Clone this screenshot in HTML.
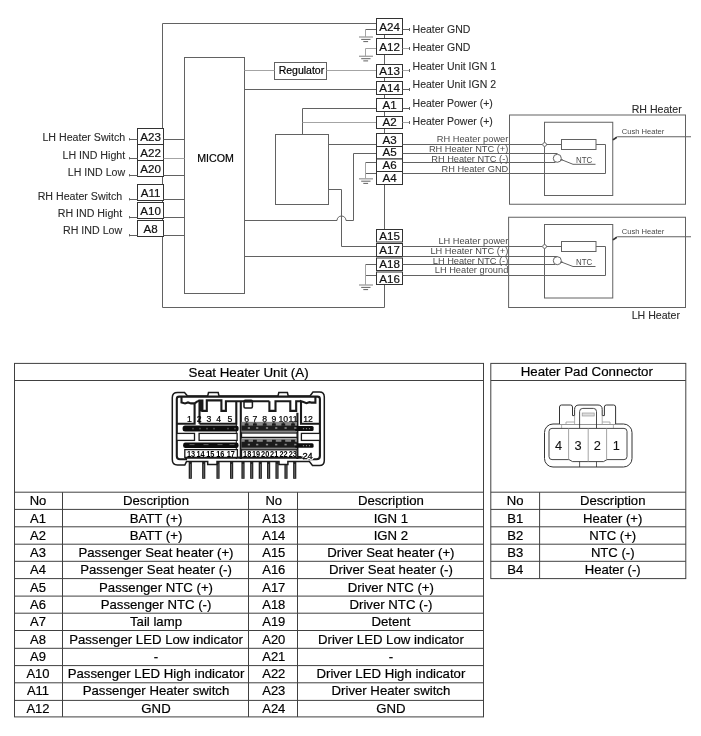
<!DOCTYPE html>
<html><head><meta charset="utf-8"><title>Seat Heater Unit</title>
<style>
html,body{margin:0;padding:0;background:#fff;overflow:hidden;}
svg{display:block;font-family:"Liberation Sans",sans-serif;will-change:transform;}
</style></head>
<body>
<svg width="701" height="736" viewBox="0 0 701 736">
<rect x="0" y="0" width="701" height="736" fill="#fff"/>
<g id="diagram">
<polyline points="376.5,23.5 162.5,23.5 162.5,307.5 384.5,307.5 384.5,284.5" fill="none" stroke="#626262" stroke-width="1"/>
<rect x="184.5" y="57.5" width="60.0" height="236.0" fill="none" stroke="#626262" stroke-width="1"/>
<text x="215.5" y="161.5" font-size="10.65" text-anchor="middle" fill="#000" stroke="#000" stroke-width="0.2">MICOM</text>
<rect x="274.5" y="62.5" width="52.0" height="17.0" fill="none" stroke="#626262" stroke-width="1"/>
<text x="301.4" y="73.6" font-size="10.5" text-anchor="middle" fill="#000" stroke="#000" stroke-width="0.2">Regulator</text>
<line x1="244.5" y1="70.5" x2="274.5" y2="70.5" stroke="#a4a4a4" stroke-width="1"/>
<line x1="326.5" y1="70.5" x2="376.5" y2="70.5" stroke="#a4a4a4" stroke-width="1"/>
<line x1="244.5" y1="89.5" x2="376.5" y2="89.5" stroke="#626262" stroke-width="1"/>
<rect x="275.5" y="134.5" width="53.0" height="70.0" fill="none" stroke="#626262" stroke-width="1"/>
<polyline points="376.5,108.5 302.5,108.5 302.5,134.5" fill="none" stroke="#626262" stroke-width="1"/>
<line x1="302.5" y1="122.5" x2="376.5" y2="122.5" stroke="#a4a4a4" stroke-width="1"/>
<line x1="328.5" y1="144.5" x2="376.5" y2="144.5" stroke="#626262" stroke-width="1"/>
<polyline points="328.5,189.5 341.5,189.5 341.5,246.5 376.5,246.5" fill="none" stroke="#626262" stroke-width="1"/>
<path d="M244.5 220.5 H337 A4.5 4.5 0 0 1 346 220.5 H353.5 V153.5 H376.5" fill="none" stroke="#626262" stroke-width="1"/>
<line x1="244.5" y1="256.5" x2="376.5" y2="256.5" stroke="#626262" stroke-width="1"/>
<line x1="384.5" y1="34.5" x2="384.5" y2="38.5" stroke="#626262" stroke-width="1"/>
<line x1="384.5" y1="54.5" x2="384.5" y2="64.5" stroke="#626262" stroke-width="1"/>
<line x1="384.5" y1="77.5" x2="384.5" y2="81.5" stroke="#626262" stroke-width="1"/>
<line x1="384.5" y1="94.5" x2="384.5" y2="98.5" stroke="#626262" stroke-width="1"/>
<line x1="384.5" y1="111.5" x2="384.5" y2="116.5" stroke="#626262" stroke-width="1"/>
<line x1="384.5" y1="128.5" x2="384.5" y2="133.5" stroke="#626262" stroke-width="1"/>
<line x1="384.5" y1="184.5" x2="384.5" y2="229.5" stroke="#626262" stroke-width="1"/>
<line x1="365.5" y1="29.5" x2="376.5" y2="29.5" stroke="#626262" stroke-width="1"/>
<line x1="365.5" y1="29.5" x2="365.5" y2="37" stroke="#a4a4a4" stroke-width="1"/>
<line x1="359.0" y1="37" x2="373.0" y2="37" stroke="#a4a4a4" stroke-width="1.4"/>
<line x1="361.2" y1="39.4" x2="370.5" y2="39.4" stroke="#626262" stroke-width="1"/>
<line x1="363.3" y1="41.6" x2="368.1" y2="41.6" stroke="#626262" stroke-width="1"/>
<line x1="365.5" y1="48.5" x2="376.5" y2="48.5" stroke="#a4a4a4" stroke-width="1"/>
<line x1="365.5" y1="48.5" x2="365.5" y2="56.3" stroke="#a4a4a4" stroke-width="1"/>
<line x1="359.0" y1="56.3" x2="373.0" y2="56.3" stroke="#a4a4a4" stroke-width="1.4"/>
<line x1="361.2" y1="58.699999999999996" x2="370.5" y2="58.699999999999996" stroke="#626262" stroke-width="1"/>
<line x1="363.3" y1="60.9" x2="368.1" y2="60.9" stroke="#626262" stroke-width="1"/>
<line x1="365.5" y1="162.5" x2="376.5" y2="162.5" stroke="#626262" stroke-width="1"/>
<line x1="365.5" y1="173.5" x2="376.5" y2="173.5" stroke="#626262" stroke-width="1"/>
<line x1="365.5" y1="162.5" x2="365.5" y2="178.8" stroke="#a4a4a4" stroke-width="1"/>
<line x1="359.0" y1="178.8" x2="373.0" y2="178.8" stroke="#a4a4a4" stroke-width="1.4"/>
<line x1="361.2" y1="181.20000000000002" x2="370.5" y2="181.20000000000002" stroke="#626262" stroke-width="1"/>
<line x1="363.3" y1="183.4" x2="368.1" y2="183.4" stroke="#626262" stroke-width="1"/>
<line x1="365.5" y1="264.5" x2="376.5" y2="264.5" stroke="#626262" stroke-width="1"/>
<line x1="365.5" y1="275.5" x2="376.5" y2="275.5" stroke="#626262" stroke-width="1"/>
<line x1="365.5" y1="264.5" x2="365.5" y2="285" stroke="#a4a4a4" stroke-width="1"/>
<line x1="359.0" y1="285" x2="373.0" y2="285" stroke="#a4a4a4" stroke-width="1.4"/>
<line x1="361.2" y1="287.4" x2="370.5" y2="287.4" stroke="#626262" stroke-width="1"/>
<line x1="363.3" y1="289.6" x2="368.1" y2="289.6" stroke="#626262" stroke-width="1"/>
<rect x="376.5" y="18.5" width="26.0" height="16.0" fill="#fff" stroke="#333" stroke-width="1"/>
<text x="389.6" y="30.5" font-size="11.6" text-anchor="middle" fill="#111" stroke="#111" stroke-width="0.2">A24</text>
<rect x="376.5" y="38.5" width="26.0" height="16.0" fill="#fff" stroke="#333" stroke-width="1"/>
<text x="389.6" y="50.8" font-size="11.6" text-anchor="middle" fill="#111" stroke="#111" stroke-width="0.2">A12</text>
<rect x="376.5" y="64.5" width="26.0" height="13.0" fill="#fff" stroke="#333" stroke-width="1"/>
<text x="389.6" y="75.1" font-size="11.6" text-anchor="middle" fill="#111" stroke="#111" stroke-width="0.2">A13</text>
<rect x="376.5" y="81.5" width="26.0" height="13.0" fill="#fff" stroke="#333" stroke-width="1"/>
<text x="389.6" y="92.3" font-size="11.6" text-anchor="middle" fill="#111" stroke="#111" stroke-width="0.2">A14</text>
<rect x="376.5" y="98.5" width="26.0" height="13.0" fill="#fff" stroke="#333" stroke-width="1"/>
<text x="389.6" y="109.4" font-size="11.6" text-anchor="middle" fill="#111" stroke="#111" stroke-width="0.2">A1</text>
<rect x="376.5" y="116.5" width="26.0" height="12.0" fill="#fff" stroke="#333" stroke-width="1"/>
<text x="389.6" y="126.3" font-size="11.6" text-anchor="middle" fill="#111" stroke="#111" stroke-width="0.2">A2</text>
<rect x="376.5" y="133.5" width="26.0" height="13.0" fill="#fff" stroke="#333" stroke-width="1"/>
<text x="389.6" y="143.9" font-size="11.6" text-anchor="middle" fill="#111" stroke="#111" stroke-width="0.2">A3</text>
<rect x="376.5" y="146.5" width="26.0" height="12.5" fill="#fff" stroke="#333" stroke-width="1"/>
<text x="389.6" y="156.3" font-size="11.6" text-anchor="middle" fill="#111" stroke="#111" stroke-width="0.2">A5</text>
<rect x="376.5" y="159" width="26.0" height="12.5" fill="#fff" stroke="#333" stroke-width="1"/>
<text x="389.6" y="168.8" font-size="11.6" text-anchor="middle" fill="#111" stroke="#111" stroke-width="0.2">A6</text>
<rect x="376.5" y="171.5" width="26.0" height="13.0" fill="#fff" stroke="#333" stroke-width="1"/>
<text x="389.6" y="181.8" font-size="11.6" text-anchor="middle" fill="#111" stroke="#111" stroke-width="0.2">A4</text>
<rect x="376.5" y="229.5" width="26.0" height="12.5" fill="#fff" stroke="#333" stroke-width="1"/>
<text x="389.6" y="239.6" font-size="11.6" text-anchor="middle" fill="#111" stroke="#111" stroke-width="0.2">A15</text>
<rect x="376.5" y="243.5" width="26.0" height="13.0" fill="#fff" stroke="#333" stroke-width="1"/>
<text x="389.6" y="253.8" font-size="11.6" text-anchor="middle" fill="#111" stroke="#111" stroke-width="0.2">A17</text>
<rect x="376.5" y="258" width="26.0" height="12.5" fill="#fff" stroke="#333" stroke-width="1"/>
<text x="389.6" y="268.1" font-size="11.6" text-anchor="middle" fill="#111" stroke="#111" stroke-width="0.2">A18</text>
<rect x="376.5" y="272" width="26.0" height="12.5" fill="#fff" stroke="#333" stroke-width="1"/>
<text x="389.6" y="282.6" font-size="11.6" text-anchor="middle" fill="#111" stroke="#111" stroke-width="0.2">A16</text>
<rect x="137.5" y="128.5" width="26.0" height="16.0" fill="#fff" stroke="#333" stroke-width="1"/>
<text x="150.6" y="140.5" font-size="11.6" text-anchor="middle" fill="#111" stroke="#111" stroke-width="0.2">A23</text>
<rect x="137.5" y="144.5" width="26.0" height="16.0" fill="#fff" stroke="#333" stroke-width="1"/>
<text x="150.6" y="156.5" font-size="11.6" text-anchor="middle" fill="#111" stroke="#111" stroke-width="0.2">A22</text>
<rect x="137.5" y="160.5" width="26.0" height="16.0" fill="#fff" stroke="#333" stroke-width="1"/>
<text x="150.6" y="172.5" font-size="11.6" text-anchor="middle" fill="#111" stroke="#111" stroke-width="0.2">A20</text>
<rect x="137.5" y="184.5" width="26.0" height="16.0" fill="#fff" stroke="#333" stroke-width="1"/>
<text x="150.6" y="196.5" font-size="11.6" text-anchor="middle" fill="#111" stroke="#111" stroke-width="0.2">A11</text>
<rect x="137.5" y="202.5" width="26.0" height="16.0" fill="#fff" stroke="#333" stroke-width="1"/>
<text x="150.6" y="214.5" font-size="11.6" text-anchor="middle" fill="#111" stroke="#111" stroke-width="0.2">A10</text>
<rect x="137.5" y="220.5" width="26.0" height="16.0" fill="#fff" stroke="#333" stroke-width="1"/>
<text x="150.6" y="232.5" font-size="11.6" text-anchor="middle" fill="#111" stroke="#111" stroke-width="0.2">A8</text>
<line x1="163.5" y1="139.5" x2="184.5" y2="139.5" stroke="#626262" stroke-width="1"/>
<line x1="129" y1="139.5" x2="137.5" y2="139.5" stroke="#626262" stroke-width="1"/>
<line x1="129.5" y1="138.1" x2="129.5" y2="140.4" stroke="#626262" stroke-width="1"/>
<line x1="163.5" y1="158.5" x2="184.5" y2="158.5" stroke="#a4a4a4" stroke-width="1"/>
<line x1="129" y1="158.5" x2="137.5" y2="158.5" stroke="#626262" stroke-width="1"/>
<line x1="129.5" y1="157.1" x2="129.5" y2="159.4" stroke="#626262" stroke-width="1"/>
<line x1="163.5" y1="175.5" x2="184.5" y2="175.5" stroke="#626262" stroke-width="1"/>
<line x1="129" y1="175.5" x2="137.5" y2="175.5" stroke="#626262" stroke-width="1"/>
<line x1="129.5" y1="174.1" x2="129.5" y2="176.4" stroke="#626262" stroke-width="1"/>
<line x1="163.5" y1="199.5" x2="184.5" y2="199.5" stroke="#626262" stroke-width="1"/>
<line x1="129" y1="199.5" x2="137.5" y2="199.5" stroke="#626262" stroke-width="1"/>
<line x1="129.5" y1="198.1" x2="129.5" y2="200.4" stroke="#626262" stroke-width="1"/>
<line x1="163.5" y1="217.5" x2="184.5" y2="217.5" stroke="#626262" stroke-width="1"/>
<line x1="129" y1="217.5" x2="137.5" y2="217.5" stroke="#626262" stroke-width="1"/>
<line x1="129.5" y1="216.1" x2="129.5" y2="218.4" stroke="#626262" stroke-width="1"/>
<line x1="163.5" y1="235.5" x2="184.5" y2="235.5" stroke="#626262" stroke-width="1"/>
<line x1="129" y1="235.5" x2="137.5" y2="235.5" stroke="#626262" stroke-width="1"/>
<line x1="129.5" y1="234.1" x2="129.5" y2="236.4" stroke="#626262" stroke-width="1"/>
<text x="125.2" y="141" font-size="10.65" text-anchor="end" fill="#2a2a2a" stroke="#2a2a2a" stroke-width="0.1">LH Heater Switch</text>
<text x="125.2" y="158.8" font-size="10.65" text-anchor="end" fill="#2a2a2a" stroke="#2a2a2a" stroke-width="0.1">LH IND Hight</text>
<text x="125.2" y="175.6" font-size="10.65" text-anchor="end" fill="#2a2a2a" stroke="#2a2a2a" stroke-width="0.1">LH IND Low</text>
<text x="122.2" y="199.5" font-size="10.65" text-anchor="end" fill="#2a2a2a" stroke="#2a2a2a" stroke-width="0.1">RH Heater Switch</text>
<text x="122.2" y="216.8" font-size="10.65" text-anchor="end" fill="#2a2a2a" stroke="#2a2a2a" stroke-width="0.1">RH IND Hight</text>
<text x="122.2" y="234.3" font-size="10.65" text-anchor="end" fill="#2a2a2a" stroke="#2a2a2a" stroke-width="0.1">RH IND Low</text>
<line x1="402.5" y1="29.5" x2="409.5" y2="29.5" stroke="#626262" stroke-width="1"/>
<line x1="409.5" y1="28.0" x2="409.5" y2="31.0" stroke="#626262" stroke-width="1"/>
<text x="412.6" y="32.5" font-size="10.5" text-anchor="start" fill="#2a2a2a" stroke="#2a2a2a" stroke-width="0.1">Heater GND</text>
<line x1="402.5" y1="48.5" x2="409.5" y2="48.5" stroke="#a4a4a4" stroke-width="1"/>
<line x1="409.5" y1="47.0" x2="409.5" y2="50.0" stroke="#626262" stroke-width="1"/>
<text x="412.6" y="50.8" font-size="10.5" text-anchor="start" fill="#2a2a2a" stroke="#2a2a2a" stroke-width="0.1">Heater GND</text>
<line x1="402.5" y1="70.5" x2="409.5" y2="70.5" stroke="#a4a4a4" stroke-width="1"/>
<line x1="409.5" y1="69.0" x2="409.5" y2="72.0" stroke="#626262" stroke-width="1"/>
<text x="412.6" y="69.5" font-size="10.5" text-anchor="start" fill="#2a2a2a" stroke="#2a2a2a" stroke-width="0.1">Heater Unit IGN 1</text>
<line x1="402.5" y1="89.5" x2="409.5" y2="89.5" stroke="#626262" stroke-width="1"/>
<line x1="409.5" y1="88.0" x2="409.5" y2="91.0" stroke="#626262" stroke-width="1"/>
<text x="412.6" y="88.3" font-size="10.5" text-anchor="start" fill="#2a2a2a" stroke="#2a2a2a" stroke-width="0.1">Heater Unit IGN 2</text>
<line x1="402.5" y1="108.5" x2="409.5" y2="108.5" stroke="#626262" stroke-width="1"/>
<line x1="409.5" y1="107.0" x2="409.5" y2="110.0" stroke="#626262" stroke-width="1"/>
<text x="412.6" y="106.8" font-size="10.5" text-anchor="start" fill="#2a2a2a" stroke="#2a2a2a" stroke-width="0.1">Heater Power (+)</text>
<line x1="402.5" y1="122.5" x2="409.5" y2="122.5" stroke="#a4a4a4" stroke-width="1"/>
<line x1="409.5" y1="121.0" x2="409.5" y2="124.0" stroke="#626262" stroke-width="1"/>
<text x="412.6" y="125" font-size="10.5" text-anchor="start" fill="#2a2a2a" stroke="#2a2a2a" stroke-width="0.1">Heater Power (+)</text>
<line x1="402.5" y1="144.5" x2="542.5" y2="144.5" stroke="#626262" stroke-width="1"/>
<line x1="402.5" y1="153.5" x2="557.5" y2="153.5" stroke="#626262" stroke-width="1"/>
<line x1="402.5" y1="162.5" x2="555.5" y2="162.5" stroke="#626262" stroke-width="1"/>
<polyline points="402.5,173.5 605.5,173.5 605.5,144.5 596,144.5" fill="none" stroke="#626262" stroke-width="1"/>
<line x1="402.5" y1="246.5" x2="542.5" y2="246.5" stroke="#626262" stroke-width="1"/>
<line x1="402.5" y1="256.5" x2="557.5" y2="256.5" stroke="#626262" stroke-width="1"/>
<line x1="402.5" y1="264.5" x2="555.5" y2="264.5" stroke="#626262" stroke-width="1"/>
<polyline points="402.5,275.5 605.5,275.5 605.5,246.5 596,246.5" fill="none" stroke="#626262" stroke-width="1"/>
<text x="508.3" y="142.3" font-size="9.25" text-anchor="end" fill="#4a4a4a" stroke="#4a4a4a" stroke-width="0">RH Heater power</text>
<text x="508.3" y="151.9" font-size="9.25" text-anchor="end" fill="#4a4a4a" stroke="#4a4a4a" stroke-width="0">RH Heater NTC (+)</text>
<text x="508.3" y="161.7" font-size="9.25" text-anchor="end" fill="#4a4a4a" stroke="#4a4a4a" stroke-width="0">RH Heater NTC (-)</text>
<text x="508.3" y="171.6" font-size="9.25" text-anchor="end" fill="#4a4a4a" stroke="#4a4a4a" stroke-width="0">RH Heater GND</text>
<text x="508.3" y="244.4" font-size="9.25" text-anchor="end" fill="#4a4a4a" stroke="#4a4a4a" stroke-width="0">LH Heater power</text>
<text x="508.3" y="254" font-size="9.25" text-anchor="end" fill="#4a4a4a" stroke="#4a4a4a" stroke-width="0">LH Heater NTC (+)</text>
<text x="508.3" y="263.5" font-size="9.25" text-anchor="end" fill="#4a4a4a" stroke="#4a4a4a" stroke-width="0">LH Heater NTC (-)</text>
<text x="508.3" y="273.3" font-size="9.25" text-anchor="end" fill="#4a4a4a" stroke="#4a4a4a" stroke-width="0">LH Heater ground</text>
<rect x="509.5" y="115" width="176.0" height="89.25" fill="none" stroke="#626262" stroke-width="1"/>
<rect x="544.5" y="122.25" width="68.25" height="73.25" fill="none" stroke="#626262" stroke-width="1"/>
<circle cx="544.6" cy="144.5" r="1.9" fill="#fff" stroke="#626262" stroke-width="0.9"/>
<line x1="546.5" y1="144.5" x2="561.5" y2="144.5" stroke="#626262" stroke-width="1"/>
<rect x="561.5" y="139.5" width="34.5" height="10.0" fill="none" stroke="#626262" stroke-width="1"/>
<circle cx="557.3" cy="158.3" r="4" fill="#fff" stroke="#626262" stroke-width="1"/>
<polyline points="561.3,159.60000000000002 573,164.3 595.5,164.3" fill="none" stroke="#626262" stroke-width="1"/>
<circle cx="561.8" cy="159.8" r="0.9" fill="#626262"/>
<text x="576" y="162.8" font-size="8.4" text-anchor="start" fill="#4a4a4a" stroke="#4a4a4a" stroke-width="0" textLength="16.2" lengthAdjust="spacingAndGlyphs">NTC</text>
<polyline points="612.75,139.8 617.3,136.75 691,136.75" fill="none" stroke="#626262" stroke-width="1"/>
<line x1="613" y1="139.9" x2="616.8" y2="137.3" stroke="#333" stroke-width="1.7"/>
<text x="621.7" y="133.75" font-size="8.1" text-anchor="start" fill="#4a4a4a" stroke="#4a4a4a" stroke-width="0" textLength="42.6" lengthAdjust="spacingAndGlyphs">Cush Heater</text>
<rect x="508.6" y="217.25" width="176.9" height="90.25" fill="none" stroke="#626262" stroke-width="1"/>
<rect x="544.5" y="224.5" width="68.25" height="73.5" fill="none" stroke="#626262" stroke-width="1"/>
<circle cx="544.6" cy="246.5" r="1.9" fill="#fff" stroke="#626262" stroke-width="0.9"/>
<line x1="546.5" y1="246.5" x2="561.5" y2="246.5" stroke="#626262" stroke-width="1"/>
<rect x="561.5" y="241.5" width="34.5" height="10.0" fill="none" stroke="#626262" stroke-width="1"/>
<circle cx="557.3" cy="260.7" r="4" fill="#fff" stroke="#626262" stroke-width="1"/>
<polyline points="561.3,262.0 573,266.5 595.5,266.5" fill="none" stroke="#626262" stroke-width="1"/>
<circle cx="561.8" cy="262.2" r="0.9" fill="#626262"/>
<text x="576" y="265" font-size="8.4" text-anchor="start" fill="#4a4a4a" stroke="#4a4a4a" stroke-width="0" textLength="16.2" lengthAdjust="spacingAndGlyphs">NTC</text>
<polyline points="612.75,239.8 617.3,236.75 691,236.75" fill="none" stroke="#626262" stroke-width="1"/>
<line x1="613" y1="239.9" x2="616.8" y2="237.3" stroke="#333" stroke-width="1.7"/>
<text x="621.7" y="234" font-size="8.1" text-anchor="start" fill="#4a4a4a" stroke="#4a4a4a" stroke-width="0" textLength="42.6" lengthAdjust="spacingAndGlyphs">Cush Heater</text>
<text x="631.7" y="113" font-size="10.6" text-anchor="start" fill="#2a2a2a" stroke="#2a2a2a" stroke-width="0.1">RH Heater</text>
<text x="631.7" y="318.8" font-size="10.6" text-anchor="start" fill="#2a2a2a" stroke="#2a2a2a" stroke-width="0.1">LH Heater</text>
</g>
<g id="tables">
<rect x="14.5" y="363.4" width="469.0" height="353.5" fill="none" stroke="#404040" stroke-width="1"/>
<line x1="14.5" y1="380.5" x2="483.5" y2="380.5" stroke="#404040" stroke-width="1"/>
<line x1="14.5" y1="492.2" x2="483.5" y2="492.2" stroke="#404040" stroke-width="1"/>
<line x1="14.5" y1="509.4" x2="483.5" y2="509.4" stroke="#404040" stroke-width="1"/>
<line x1="14.5" y1="526.8" x2="483.5" y2="526.8" stroke="#404040" stroke-width="1"/>
<line x1="14.5" y1="544.2" x2="483.5" y2="544.2" stroke="#404040" stroke-width="1"/>
<line x1="14.5" y1="561.3" x2="483.5" y2="561.3" stroke="#404040" stroke-width="1"/>
<line x1="14.5" y1="578.6" x2="483.5" y2="578.6" stroke="#404040" stroke-width="1"/>
<line x1="14.5" y1="596.1" x2="483.5" y2="596.1" stroke="#404040" stroke-width="1"/>
<line x1="14.5" y1="613.2" x2="483.5" y2="613.2" stroke="#404040" stroke-width="1"/>
<line x1="14.5" y1="630.5" x2="483.5" y2="630.5" stroke="#404040" stroke-width="1"/>
<line x1="14.5" y1="648.3" x2="483.5" y2="648.3" stroke="#404040" stroke-width="1"/>
<line x1="14.5" y1="665.6" x2="483.5" y2="665.6" stroke="#404040" stroke-width="1"/>
<line x1="14.5" y1="682.8" x2="483.5" y2="682.8" stroke="#404040" stroke-width="1"/>
<line x1="14.5" y1="700.4" x2="483.5" y2="700.4" stroke="#404040" stroke-width="1"/>
<line x1="62.5" y1="492.2" x2="62.5" y2="716.9" stroke="#404040" stroke-width="1"/>
<line x1="248.5" y1="492.2" x2="248.5" y2="716.9" stroke="#404040" stroke-width="1"/>
<line x1="297.5" y1="492.2" x2="297.5" y2="716.9" stroke="#404040" stroke-width="1"/>
<text x="248.6" y="376.5" font-size="13.33" text-anchor="middle" fill="#000" stroke="#000" stroke-width="0.2">Seat Heater Unit (A)</text>
<text x="38.0" y="505.4" font-size="13.0" text-anchor="middle" fill="#000" stroke="#000" stroke-width="0.2">No</text>
<text x="156.0" y="505.4" font-size="13.2" text-anchor="middle" fill="#000" stroke="#000" stroke-width="0.2">Description</text>
<text x="273.8" y="505.4" font-size="13.0" text-anchor="middle" fill="#000" stroke="#000" stroke-width="0.2">No</text>
<text x="390.9" y="505.4" font-size="13.2" text-anchor="middle" fill="#000" stroke="#000" stroke-width="0.2">Description</text>
<text x="38.0" y="522.6" font-size="13.0" text-anchor="middle" fill="#000" stroke="#000" stroke-width="0.2">A1</text>
<text x="156.0" y="522.6" font-size="13.2" text-anchor="middle" fill="#000" stroke="#000" stroke-width="0.2">BATT (+)</text>
<text x="273.8" y="522.6" font-size="13.0" text-anchor="middle" fill="#000" stroke="#000" stroke-width="0.2">A13</text>
<text x="390.9" y="522.6" font-size="13.2" text-anchor="middle" fill="#000" stroke="#000" stroke-width="0.2">IGN 1</text>
<text x="38.0" y="539.9" font-size="13.0" text-anchor="middle" fill="#000" stroke="#000" stroke-width="0.2">A2</text>
<text x="156.0" y="539.9" font-size="13.2" text-anchor="middle" fill="#000" stroke="#000" stroke-width="0.2">BATT (+)</text>
<text x="273.8" y="539.9" font-size="13.0" text-anchor="middle" fill="#000" stroke="#000" stroke-width="0.2">A14</text>
<text x="390.9" y="539.9" font-size="13.2" text-anchor="middle" fill="#000" stroke="#000" stroke-width="0.2">IGN 2</text>
<text x="38.0" y="557.2" font-size="13.0" text-anchor="middle" fill="#000" stroke="#000" stroke-width="0.2">A3</text>
<text x="156.0" y="557.2" font-size="13.2" text-anchor="middle" fill="#000" stroke="#000" stroke-width="0.2">Passenger Seat heater (+)</text>
<text x="273.8" y="557.2" font-size="13.0" text-anchor="middle" fill="#000" stroke="#000" stroke-width="0.2">A15</text>
<text x="390.9" y="557.2" font-size="13.2" text-anchor="middle" fill="#000" stroke="#000" stroke-width="0.2">Driver Seat heater (+)</text>
<text x="38.0" y="574.4" font-size="13.0" text-anchor="middle" fill="#000" stroke="#000" stroke-width="0.2">A4</text>
<text x="156.0" y="574.4" font-size="13.2" text-anchor="middle" fill="#000" stroke="#000" stroke-width="0.2">Passenger Seat heater (-)</text>
<text x="273.8" y="574.4" font-size="13.0" text-anchor="middle" fill="#000" stroke="#000" stroke-width="0.2">A16</text>
<text x="390.9" y="574.4" font-size="13.2" text-anchor="middle" fill="#000" stroke="#000" stroke-width="0.2">Driver Seat heater (-)</text>
<text x="38.0" y="591.7" font-size="13.0" text-anchor="middle" fill="#000" stroke="#000" stroke-width="0.2">A5</text>
<text x="156.0" y="591.7" font-size="13.2" text-anchor="middle" fill="#000" stroke="#000" stroke-width="0.2">Passenger NTC (+)</text>
<text x="273.8" y="591.7" font-size="13.0" text-anchor="middle" fill="#000" stroke="#000" stroke-width="0.2">A17</text>
<text x="390.9" y="591.7" font-size="13.2" text-anchor="middle" fill="#000" stroke="#000" stroke-width="0.2">Driver NTC (+)</text>
<text x="38.0" y="609.0" font-size="13.0" text-anchor="middle" fill="#000" stroke="#000" stroke-width="0.2">A6</text>
<text x="156.0" y="609.0" font-size="13.2" text-anchor="middle" fill="#000" stroke="#000" stroke-width="0.2">Passenger NTC (-)</text>
<text x="273.8" y="609.0" font-size="13.0" text-anchor="middle" fill="#000" stroke="#000" stroke-width="0.2">A18</text>
<text x="390.9" y="609.0" font-size="13.2" text-anchor="middle" fill="#000" stroke="#000" stroke-width="0.2">Driver NTC (-)</text>
<text x="38.0" y="626.2" font-size="13.0" text-anchor="middle" fill="#000" stroke="#000" stroke-width="0.2">A7</text>
<text x="156.0" y="626.2" font-size="13.2" text-anchor="middle" fill="#000" stroke="#000" stroke-width="0.2">Tail lamp</text>
<text x="273.8" y="626.2" font-size="13.0" text-anchor="middle" fill="#000" stroke="#000" stroke-width="0.2">A19</text>
<text x="390.9" y="626.2" font-size="13.2" text-anchor="middle" fill="#000" stroke="#000" stroke-width="0.2">Detent</text>
<text x="38.0" y="643.5" font-size="13.0" text-anchor="middle" fill="#000" stroke="#000" stroke-width="0.2">A8</text>
<text x="156.0" y="643.5" font-size="13.2" text-anchor="middle" fill="#000" stroke="#000" stroke-width="0.2">Passenger LED Low indicator</text>
<text x="273.8" y="643.5" font-size="13.0" text-anchor="middle" fill="#000" stroke="#000" stroke-width="0.2">A20</text>
<text x="390.9" y="643.5" font-size="13.2" text-anchor="middle" fill="#000" stroke="#000" stroke-width="0.2">Driver LED Low indicator</text>
<text x="38.0" y="660.8" font-size="13.0" text-anchor="middle" fill="#000" stroke="#000" stroke-width="0.2">A9</text>
<text x="156.0" y="660.8" font-size="13.2" text-anchor="middle" fill="#000" stroke="#000" stroke-width="0.2">-</text>
<text x="273.8" y="660.8" font-size="13.0" text-anchor="middle" fill="#000" stroke="#000" stroke-width="0.2">A21</text>
<text x="390.9" y="660.8" font-size="13.2" text-anchor="middle" fill="#000" stroke="#000" stroke-width="0.2">-</text>
<text x="38.0" y="678.0" font-size="13.0" text-anchor="middle" fill="#000" stroke="#000" stroke-width="0.2">A10</text>
<text x="156.0" y="678.0" font-size="13.2" text-anchor="middle" fill="#000" stroke="#000" stroke-width="0.2">Passenger LED High indicator</text>
<text x="273.8" y="678.0" font-size="13.0" text-anchor="middle" fill="#000" stroke="#000" stroke-width="0.2">A22</text>
<text x="390.9" y="678.0" font-size="13.2" text-anchor="middle" fill="#000" stroke="#000" stroke-width="0.2">Driver LED High indicator</text>
<text x="38.0" y="695.3" font-size="13.0" text-anchor="middle" fill="#000" stroke="#000" stroke-width="0.2">A11</text>
<text x="156.0" y="695.3" font-size="13.2" text-anchor="middle" fill="#000" stroke="#000" stroke-width="0.2">Passenger Heater switch</text>
<text x="273.8" y="695.3" font-size="13.0" text-anchor="middle" fill="#000" stroke="#000" stroke-width="0.2">A23</text>
<text x="390.9" y="695.3" font-size="13.2" text-anchor="middle" fill="#000" stroke="#000" stroke-width="0.2">Driver Heater switch</text>
<text x="38.0" y="712.6" font-size="13.0" text-anchor="middle" fill="#000" stroke="#000" stroke-width="0.2">A12</text>
<text x="156.0" y="712.6" font-size="13.2" text-anchor="middle" fill="#000" stroke="#000" stroke-width="0.2">GND</text>
<text x="273.8" y="712.6" font-size="13.0" text-anchor="middle" fill="#000" stroke="#000" stroke-width="0.2">A24</text>
<text x="390.9" y="712.6" font-size="13.2" text-anchor="middle" fill="#000" stroke="#000" stroke-width="0.2">GND</text>
<rect x="490.8" y="363.4" width="195.0" height="215.2" fill="none" stroke="#404040" stroke-width="1"/>
<line x1="490.8" y1="380.5" x2="685.8" y2="380.5" stroke="#404040" stroke-width="1"/>
<line x1="490.8" y1="492.2" x2="685.8" y2="492.2" stroke="#404040" stroke-width="1"/>
<line x1="490.8" y1="509.4" x2="685.8" y2="509.4" stroke="#404040" stroke-width="1"/>
<line x1="490.8" y1="526.8" x2="685.8" y2="526.8" stroke="#404040" stroke-width="1"/>
<line x1="490.8" y1="544.2" x2="685.8" y2="544.2" stroke="#404040" stroke-width="1"/>
<line x1="490.8" y1="561.3" x2="685.8" y2="561.3" stroke="#404040" stroke-width="1"/>
<line x1="539.6" y1="492.2" x2="539.6" y2="578.6" stroke="#404040" stroke-width="1"/>
<text x="586.8" y="376.4" font-size="13.3" text-anchor="middle" fill="#000" stroke="#000" stroke-width="0.2">Heater Pad Connector</text>
<text x="515.2" y="505.4" font-size="13.1" text-anchor="middle" fill="#000" stroke="#000" stroke-width="0.2">No</text>
<text x="612.7" y="505.4" font-size="13.1" text-anchor="middle" fill="#000" stroke="#000" stroke-width="0.2">Description</text>
<text x="515.2" y="522.6" font-size="13.1" text-anchor="middle" fill="#000" stroke="#000" stroke-width="0.2">B1</text>
<text x="612.7" y="522.6" font-size="13.1" text-anchor="middle" fill="#000" stroke="#000" stroke-width="0.2">Heater (+)</text>
<text x="515.2" y="539.9" font-size="13.1" text-anchor="middle" fill="#000" stroke="#000" stroke-width="0.2">B2</text>
<text x="612.7" y="539.9" font-size="13.1" text-anchor="middle" fill="#000" stroke="#000" stroke-width="0.2">NTC (+)</text>
<text x="515.2" y="557.2" font-size="13.1" text-anchor="middle" fill="#000" stroke="#000" stroke-width="0.2">B3</text>
<text x="612.7" y="557.2" font-size="13.1" text-anchor="middle" fill="#000" stroke="#000" stroke-width="0.2">NTC (-)</text>
<text x="515.2" y="574.4" font-size="13.1" text-anchor="middle" fill="#000" stroke="#000" stroke-width="0.2">B4</text>
<text x="612.7" y="574.4" font-size="13.1" text-anchor="middle" fill="#000" stroke="#000" stroke-width="0.2">Heater (-)</text>
</g>
<g id="connA">
<rect x="188.70000000000002" y="462" width="3.2" height="16.8" fill="#242424"/>
<rect x="190.0" y="464" width="0.7" height="14" fill="#777"/>
<rect x="202.1" y="462" width="3.2" height="16.8" fill="#242424"/>
<rect x="203.39999999999998" y="464" width="0.7" height="14" fill="#777"/>
<rect x="216.4" y="462" width="3.2" height="16.8" fill="#242424"/>
<rect x="217.7" y="464" width="0.7" height="14" fill="#777"/>
<rect x="230.0" y="462" width="3.2" height="16.8" fill="#242424"/>
<rect x="231.29999999999998" y="464" width="0.7" height="14" fill="#777"/>
<rect x="241.4" y="462" width="3.2" height="16.8" fill="#242424"/>
<rect x="242.7" y="464" width="0.7" height="14" fill="#777"/>
<rect x="250.1" y="462" width="3.2" height="16.8" fill="#242424"/>
<rect x="251.39999999999998" y="464" width="0.7" height="14" fill="#777"/>
<rect x="258.7" y="462" width="3.2" height="16.8" fill="#242424"/>
<rect x="260.0" y="464" width="0.7" height="14" fill="#777"/>
<rect x="267.0" y="462" width="3.2" height="16.8" fill="#242424"/>
<rect x="268.3" y="464" width="0.7" height="14" fill="#777"/>
<rect x="275.4" y="462" width="3.2" height="16.8" fill="#242424"/>
<rect x="276.7" y="464" width="0.7" height="14" fill="#777"/>
<rect x="284.4" y="462" width="3.2" height="16.8" fill="#242424"/>
<rect x="285.7" y="464" width="0.7" height="14" fill="#777"/>
<rect x="293.09999999999997" y="462" width="3.2" height="16.8" fill="#242424"/>
<rect x="294.4" y="464" width="0.7" height="14" fill="#777"/>
<path d="M172.3 459.5 V397.5 Q172.3 392.4 177.5 392.4 H184.5 L187.5 396 H207.7 L208.5 392.6 H218.2 L219 396 H278 L278.8 392.6 H287.4 L288.2 396 H310 L313 392 H319.5 Q324.3 392 324.3 397 V460.5 Q324.3 465.5 319.5 465.5 H312.5 L309.4 461.6 H287.9 V464.5 H279 V461.6 H217 V464.5 H207.7 V461.6 H186.5 L184.8 465 H177.5 Q172.3 465 172.3 459.5 Z" fill="#fff" stroke="#1a1a1a" stroke-width="1.5"/>
<path d="M176.8 456 V399 Q176.8 396.6 179.2 396.6 H317.5 Q319.9 396.6 319.9 399 V456 Q319.9 459.3 316.5 459.3 H309.5 V457.6 H186 V459.3 H180 Q176.8 459.3 176.8 456 Z" fill="none" stroke="#1a1a1a" stroke-width="2.1"/>
<path d="M181.5 396.6 V402.4 L185 403.4 L188 402.4 L191 403.4 L194.6 403.4 L197 401.6 L199.5 400.6 M194.6 403.4 V423.8 H176.8" fill="none" stroke="#1a1a1a" stroke-width="2.1"/>
<path d="M199.5 423.8 V400.6 H202.4 V410.9 H206.8 V400.4 H221.4 V410.9 H225.9 V401.2 H269.4 M236.3 401.2 V423.8 H199.5" fill="none" stroke="#1a1a1a" stroke-width="2.1"/>
<line x1="201" y1="400" x2="201" y2="411.5" stroke="#1a1a1a" stroke-width="2.6"/>
<path d="M240.8 401.2 V459" fill="none" stroke="#1a1a1a" stroke-width="2.1"/>
<path d="M236.3 423.8 V459" fill="none" stroke="#1a1a1a" stroke-width="1"/>
<rect x="244" y="400.2" width="8.4" height="7.8" rx="1.2" fill="#fff" stroke="#1a1a1a" stroke-width="1.5"/>
<line x1="244" y1="401.8" x2="252.4" y2="401.8" stroke="#1a1a1a" stroke-width="1.6"/>
<path d="M269.4 401.2 V410.9 H275.5 V401.2 H290.3 V410.9 H296.2 V401.2 H301 M297.4 412.8 V459" fill="none" stroke="#1a1a1a" stroke-width="2.1"/>
<path d="M315.4 396.6 V402.6 H311.5 L309.4 402.2 L306.4 403.2 L303.5 402 L301 401.2 V423.8 H319.9" fill="none" stroke="#1a1a1a" stroke-width="2.1"/>
<text x="189.4" y="421.6" font-size="8.7" text-anchor="middle" fill="#000" stroke="#000" stroke-width="0.2">1</text>
<text x="199.2" y="421.6" font-size="8.7" text-anchor="middle" fill="#000" stroke="#000" stroke-width="0.2">2</text>
<text x="208.8" y="421.6" font-size="8.7" text-anchor="middle" fill="#000" stroke="#000" stroke-width="0.2">3</text>
<text x="218.6" y="421.6" font-size="8.7" text-anchor="middle" fill="#000" stroke="#000" stroke-width="0.2">4</text>
<text x="230" y="421.6" font-size="8.7" text-anchor="middle" fill="#000" stroke="#000" stroke-width="0.2">5</text>
<text x="246.6" y="421.6" font-size="8.7" text-anchor="middle" fill="#000" stroke="#000" stroke-width="0.2">6</text>
<text x="254.9" y="421.6" font-size="8.7" text-anchor="middle" fill="#000" stroke="#000" stroke-width="0.2">7</text>
<text x="264.7" y="421.6" font-size="8.7" text-anchor="middle" fill="#000" stroke="#000" stroke-width="0.2">8</text>
<text x="273.9" y="421.6" font-size="8.7" text-anchor="middle" fill="#000" stroke="#000" stroke-width="0.2">9</text>
<text x="283.3" y="421.6" font-size="8.7" text-anchor="middle" fill="#000" stroke="#000" stroke-width="0.2">10</text>
<text x="293" y="421.6" font-size="8.7" text-anchor="middle" fill="#000" stroke="#000" stroke-width="0.2">11</text>
<text x="308.1" y="421.6" font-size="8.7" text-anchor="middle" fill="#000" stroke="#000" stroke-width="0.2">12</text>
<rect x="182.6" y="425.6" width="56" height="6" rx="2.5" fill="#0c0c0c"/>
<rect x="241.5" y="421.8" width="55.4" height="10.6" fill="#858585"/>
<rect x="241.5" y="425.6" width="55.4" height="5" fill="#1c1c1c"/>
<rect x="295" y="426" width="18.6" height="5" rx="1.5" fill="#0c0c0c"/>
<rect x="302.9" y="428.2" width="1.2" height="1" fill="#999"/>
<rect x="305.9" y="428.2" width="1.2" height="1" fill="#999"/>
<rect x="308.9" y="428.2" width="1.2" height="1" fill="#999"/>
<rect x="192.5" y="427.8" width="1" height="1.6" fill="#777"/>
<rect x="199.5" y="427.8" width="1" height="1.6" fill="#777"/>
<rect x="206.5" y="427.8" width="1" height="1.6" fill="#777"/>
<rect x="213.5" y="427.8" width="1" height="1.6" fill="#777"/>
<rect x="227.5" y="427.8" width="1" height="1.6" fill="#777"/>
<rect x="234.5" y="427.8" width="1" height="1.6" fill="#777"/>
<rect x="244.7" y="423.4" width="3.8" height="2.4" fill="#1c1c1c"/>
<rect x="245.9" y="422.4" width="1.4" height="1.2" fill="#1c1c1c"/>
<rect x="247.79999999999998" y="427.2" width="2.2" height="1.6" fill="#8a8a8a"/>
<rect x="253.0" y="423.4" width="3.8" height="2.4" fill="#1c1c1c"/>
<rect x="254.20000000000002" y="422.4" width="1.4" height="1.2" fill="#1c1c1c"/>
<rect x="256.1" y="427.2" width="2.2" height="1.6" fill="#8a8a8a"/>
<rect x="262.8" y="423.4" width="3.8" height="2.4" fill="#1c1c1c"/>
<rect x="264.0" y="422.4" width="1.4" height="1.2" fill="#1c1c1c"/>
<rect x="265.9" y="427.2" width="2.2" height="1.6" fill="#8a8a8a"/>
<rect x="272.0" y="423.4" width="3.8" height="2.4" fill="#1c1c1c"/>
<rect x="273.2" y="422.4" width="1.4" height="1.2" fill="#1c1c1c"/>
<rect x="275.09999999999997" y="427.2" width="2.2" height="1.6" fill="#8a8a8a"/>
<rect x="281.40000000000003" y="423.4" width="3.8" height="2.4" fill="#1c1c1c"/>
<rect x="282.6" y="422.4" width="1.4" height="1.2" fill="#1c1c1c"/>
<rect x="284.5" y="427.2" width="2.2" height="1.6" fill="#8a8a8a"/>
<rect x="291.1" y="423.4" width="3.8" height="2.4" fill="#1c1c1c"/>
<rect x="292.3" y="422.4" width="1.4" height="1.2" fill="#1c1c1c"/>
<rect x="294.2" y="427.2" width="2.2" height="1.6" fill="#8a8a8a"/>
<rect x="176.8" y="433.4" width="17.7" height="7" fill="#fff" stroke="#1a1a1a" stroke-width="1.3"/>
<rect x="199.1" y="433.4" width="38" height="7" fill="#fff" stroke="#1a1a1a" stroke-width="1.3"/>
<rect x="241.5" y="433" width="55.6" height="4.4" fill="#fff" stroke="#1a1a1a" stroke-width="1.3"/>
<rect x="301.4" y="433.4" width="18.5" height="7" fill="#fff" stroke="#1a1a1a" stroke-width="1.3"/>
<rect x="183.1" y="442.6" width="55.5" height="5.4" rx="2.3" fill="#0c0c0c"/>
<rect x="241.5" y="438.4" width="55.4" height="11" fill="#858585"/>
<rect x="241.5" y="441.8" width="55.4" height="5.8" fill="#1c1c1c"/>
<rect x="295" y="443.2" width="18.6" height="4.6" rx="1.5" fill="#0c0c0c"/>
<rect x="302.9" y="445.2" width="1.2" height="1" fill="#999"/>
<rect x="305.9" y="445.2" width="1.2" height="1" fill="#999"/>
<rect x="308.9" y="445.2" width="1.2" height="1" fill="#999"/>
<rect x="189.5" y="444.2" width="5" height="0.9" fill="#666"/>
<rect x="203.5" y="444.2" width="5" height="0.9" fill="#666"/>
<rect x="217.5" y="444.2" width="5" height="0.9" fill="#666"/>
<rect x="229.5" y="444.2" width="5" height="0.9" fill="#666"/>
<rect x="244.7" y="439.8" width="3.8" height="2.2" fill="#1c1c1c"/>
<rect x="247.79999999999998" y="443.8" width="2.2" height="1.6" fill="#8a8a8a"/>
<rect x="253.0" y="439.8" width="3.8" height="2.2" fill="#1c1c1c"/>
<rect x="256.1" y="443.8" width="2.2" height="1.6" fill="#8a8a8a"/>
<rect x="262.8" y="439.8" width="3.8" height="2.2" fill="#1c1c1c"/>
<rect x="265.9" y="443.8" width="2.2" height="1.6" fill="#8a8a8a"/>
<rect x="272.0" y="439.8" width="3.8" height="2.2" fill="#1c1c1c"/>
<rect x="275.09999999999997" y="443.8" width="2.2" height="1.6" fill="#8a8a8a"/>
<rect x="281.40000000000003" y="439.8" width="3.8" height="2.2" fill="#1c1c1c"/>
<rect x="284.5" y="443.8" width="2.2" height="1.6" fill="#8a8a8a"/>
<rect x="291.1" y="439.8" width="3.8" height="2.2" fill="#1c1c1c"/>
<rect x="294.2" y="443.8" width="2.2" height="1.6" fill="#8a8a8a"/>
<rect x="184.8" y="449.6" width="52.6" height="7.8" fill="#fff" stroke="#1a1a1a" stroke-width="1.3"/>
<rect x="241.5" y="449.8" width="55.6" height="7.6" fill="#fff" stroke="#1a1a1a" stroke-width="1.3"/>
<text x="191" y="456.6" font-size="8.6" font-weight="bold" text-anchor="middle" fill="#000" textLength="8.2" lengthAdjust="spacingAndGlyphs">13</text>
<text x="200.5" y="456.6" font-size="8.6" font-weight="bold" text-anchor="middle" fill="#000" textLength="8.2" lengthAdjust="spacingAndGlyphs">14</text>
<text x="210.3" y="456.6" font-size="8.6" font-weight="bold" text-anchor="middle" fill="#000" textLength="8.2" lengthAdjust="spacingAndGlyphs">15</text>
<text x="220.3" y="456.6" font-size="8.6" font-weight="bold" text-anchor="middle" fill="#000" textLength="8.2" lengthAdjust="spacingAndGlyphs">16</text>
<text x="230.8" y="456.6" font-size="8.6" font-weight="bold" text-anchor="middle" fill="#000" textLength="8.2" lengthAdjust="spacingAndGlyphs">17</text>
<text x="247.2" y="456.6" font-size="8.6" font-weight="bold" text-anchor="middle" fill="#000" textLength="8.2" lengthAdjust="spacingAndGlyphs">18</text>
<text x="256" y="456.6" font-size="8.6" font-weight="bold" text-anchor="middle" fill="#000" textLength="8.2" lengthAdjust="spacingAndGlyphs">19</text>
<text x="265.2" y="456.6" font-size="8.6" font-weight="bold" text-anchor="middle" fill="#000" textLength="8.2" lengthAdjust="spacingAndGlyphs">20</text>
<text x="274.2" y="456.6" font-size="8.6" font-weight="bold" text-anchor="middle" fill="#000" textLength="8.2" lengthAdjust="spacingAndGlyphs">21</text>
<text x="283.6" y="456.6" font-size="8.6" font-weight="bold" text-anchor="middle" fill="#000" textLength="8.2" lengthAdjust="spacingAndGlyphs">22</text>
<text x="292.8" y="456.6" font-size="8.6" font-weight="bold" text-anchor="middle" fill="#000" textLength="8.2" lengthAdjust="spacingAndGlyphs">23</text>
<text x="307.6" y="459.3" font-size="9.3" text-anchor="middle" fill="#fff" stroke="#fff" stroke-width="2.2">24</text>
<text x="307.6" y="459.3" font-size="9.3" text-anchor="middle" fill="#000" stroke="#000" stroke-width="0.3">24</text>
<path d="M297.4 456.5 H301 L303.5 459.3" fill="none" stroke="#1a1a1a" stroke-width="1"/>
</g>
<g id="connB">
<rect x="544.5" y="424" width="87.5" height="43" rx="8.5" fill="#fff" stroke="#333" stroke-width="1"/>
<path d="M559.5 424 V407 Q559.5 405 561.5 405 H570.5 Q572.5 405 572.5 407 V415.6 H574.6 V409.5 Q574.6 405 579 405 H598 Q602.2 405 602.2 409.5 V415.6 H604.4 V407 Q604.4 405 606.4 405 H613.6 Q615.6 405 615.6 407 V424" fill="#fff" stroke="#333" stroke-width="1"/>
<path d="M579.6 428.4 V411.5 Q579.6 408.4 582.8 408.4 H593.4 Q596.5 408.4 596.5 411.5 V428.4" fill="none" stroke="#333" stroke-width="0.9"/>
<rect x="582.2" y="413" width="12" height="3" fill="#ddd" stroke="#9a9a9a" stroke-width="0.7"/>
<line x1="574.6" y1="415.6" x2="574.6" y2="424" stroke="#9a9a9a" stroke-width="0.8"/>
<line x1="602.2" y1="415.6" x2="602.2" y2="424" stroke="#9a9a9a" stroke-width="0.8"/>
<line x1="566" y1="422" x2="574.6" y2="422" stroke="#9a9a9a" stroke-width="0.8"/>
<line x1="602.2" y1="422" x2="610" y2="422" stroke="#9a9a9a" stroke-width="0.8"/>
<line x1="561.6" y1="424" x2="561.6" y2="428.4" stroke="#9a9a9a" stroke-width="0.8"/>
<line x1="613.4" y1="424" x2="613.4" y2="428.4" stroke="#9a9a9a" stroke-width="0.8"/>
<line x1="566" y1="422" x2="566" y2="424" stroke="#9a9a9a" stroke-width="0.8"/>
<line x1="610" y1="422" x2="610" y2="424" stroke="#9a9a9a" stroke-width="0.8"/>
<path d="M552 428.4 H624 Q627 428.4 627 431.4 V456.6 Q627 459.6 624 459.6 H607 L603.5 461.6 H572.5 L569 459.6 H552 Q549 459.6 549 456.6 V431.4 Q549 428.4 552 428.4 Z" fill="#fff" stroke="#333" stroke-width="0.9"/>
<line x1="568.6" y1="428.4" x2="568.6" y2="459.6" stroke="#9a9a9a" stroke-width="0.9"/>
<line x1="588.2" y1="428.4" x2="588.2" y2="461.6" stroke="#9a9a9a" stroke-width="0.9"/>
<line x1="606.6" y1="428.4" x2="606.6" y2="459.6" stroke="#9a9a9a" stroke-width="0.9"/>
<line x1="579.6" y1="461.6" x2="579.6" y2="467" stroke="#333" stroke-width="0.8"/>
<line x1="596.5" y1="461.6" x2="596.5" y2="467" stroke="#333" stroke-width="0.8"/>
<text x="558.6" y="449.7" font-size="12.8" text-anchor="middle" fill="#111" stroke="#111" stroke-width="0.1">4</text>
<text x="578" y="449.7" font-size="12.8" text-anchor="middle" fill="#111" stroke="#111" stroke-width="0.1">3</text>
<text x="597.4" y="449.7" font-size="12.8" text-anchor="middle" fill="#111" stroke="#111" stroke-width="0.1">2</text>
<text x="616.4" y="449.7" font-size="12.8" text-anchor="middle" fill="#111" stroke="#111" stroke-width="0.1">1</text>
</g>
</svg>
</body></html>
